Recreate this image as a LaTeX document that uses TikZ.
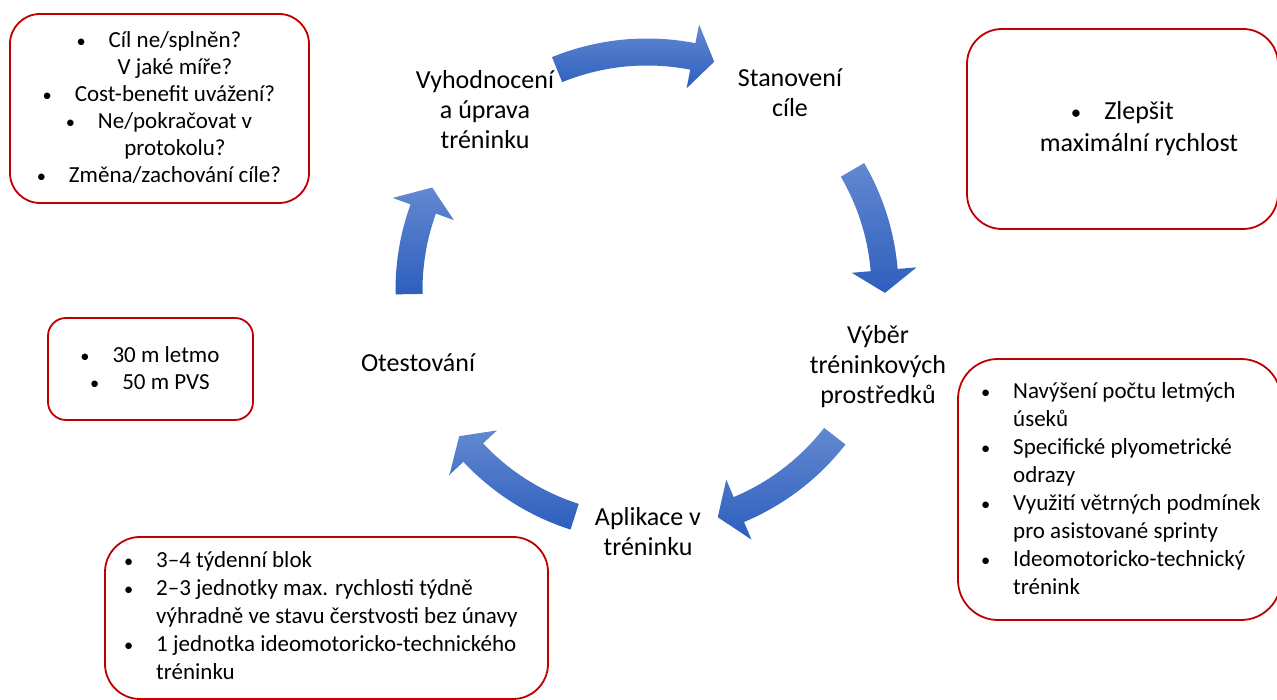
\documentclass[tikz,border=0pt]{standalone}
\usepackage{fontspec}
\usepackage{graphicx}
\setmainfont{Carlito}
\usetikzlibrary{calc}
\definecolor{cycTop}{RGB}{98,136,208}
\definecolor{cycBot}{RGB}{46,95,190}
\definecolor{boxRed}{RGB}{192,0,0}
\newcommand{\hb}{\makebox[0pt][r]{\scalebox{0.8}{\textbullet}\hspace{23pt}}}

\begin{document}
\begin{tikzpicture}[x=1pt, y=1pt,
    box/.style={draw=boxRed, line width=1.8pt},
    lbl/.style={font=\fontsize{26pt}{30pt}\selectfont, align=center, anchor=base, inner sep=0pt},
    txt/.style={font=\fontsize{23pt}{27pt}\selectfont, align=center, anchor=base, inner sep=0pt},
    txtl/.style={font=\fontsize{23pt}{28pt}\selectfont, align=left, anchor=base west, inner sep=0pt},
    cycarrow/.style={top color=cycTop, bottom color=cycBot, draw=none}]
  \useasboundingbox (0,0) rectangle (1277,700);
  \clip (0,0) rectangle (1277,700);

  % Cycle centre
  \coordinate (ctr) at (647,410);

  % Curved arrows (tail/head base/tip angles)
  \foreach \ta/\tb/\tc in {112.2/78.9/73.6, 30.3/4.8/-0.7, -37.9/-67.3/-72.7,
                          -107.7/-136.9/-142.1, 181/160.1/154.5} {
    \shade[cycarrow] ($(ctr)+(\ta:251.5pt)$)
      arc[start angle=\ta, end angle=\tb, radius=251.5pt]
      -- ($(ctr)+(\tb:270.5pt)$) -- ($(ctr)+(\tc:238pt)$) -- ($(ctr)+(\tb:205.5pt)$)
      -- ($(ctr)+(\tb:224.5pt)$)
      arc[start angle=\tb, end angle=\ta, radius=224.5pt] -- cycle;
  }

  % Cycle steps (anchored at the last line)
  \node[lbl] (stan)  at (790,583) {Stanovení\\cíle};
  \node[lbl] (vyber) at (878,296) {Výběr\\tréninkových\\prostředků};
  \node[lbl] (apl)   at (648,144) {Aplikace v\\tréninku};
  \node[lbl] (otest) at (418,328) {Otestování};
  \node[lbl] (vyhod) at (485,551) {Vyhodnocení\\a úprava\\tréninku};

  % Boxes
  \draw[box, rounded corners=30pt] (10,497) rectangle (309,686);
  \draw[box, rounded corners=35pt] (967,471) rectangle (1278,671);
  \draw[box, rounded corners=18pt] (48,280) rectangle (253,382);
  \draw[box, rounded corners=40pt] (958,80) rectangle (1281,341);
  \draw[box, rounded corners=35pt] (105,1) rectangle (548,163);

  % Box texts
  \node[txt] (vyhodTxt) at (175,517) {\hb Cíl ne/splněn?\\ V jaké míře?\\ \hb Cost-benefit uvážení?\\
    \hb Ne/pokračovat v\\ protokolu?\\ \hb Změna/zachování cíle?};
  \node[txt, font=\fontsize{26pt}{32pt}\selectfont] (stanTxt) at (1139,548) {\hb Zlepšit\\ maximální rychlost};
  \node[txt] (otestTxt) at (166,310) {\hb 30 m letmo\\ \hb 50 m PVS};
  \node[txtl] (vyberTxt) at (1013,105) {\hb Navýšení počtu letmých\\ úseků\\ \hb Specifické plyometrické\\ odrazy\\
    \hb Využití větrných podmínek\\ pro asistované sprinty\\ \hb Ideomotoricko-technický\\ trénink};
  \node[txtl] (aplTxt) at (156,20) {\hb 3–4 týdenní blok\\ \hb 2–3 jednotky max. rychlosti týdně\\
    výhradně ve stavu čerstvosti bez únavy\\ \hb 1 jednotka ideomotoricko-technického\\ tréninku};
\end{tikzpicture}
\end{document}
